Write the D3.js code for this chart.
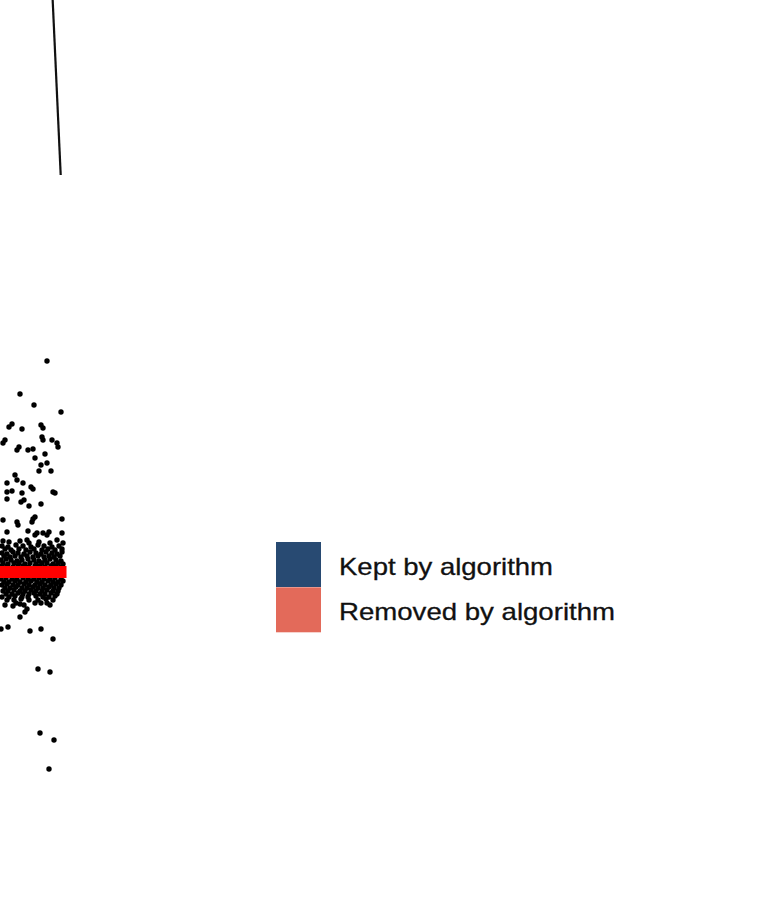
<!DOCTYPE html>
<html>
<head>
<meta charset="utf-8">
<script src="https://cdn.jsdelivr.net/npm/d3@7"></script>
<style>
  html, body { margin: 0; padding: 0; background: #ffffff; }
  svg { display: block; }
</style>
</head>
<body>
<svg id="chart" width="770" height="923"></svg>
<script>
// ---- data (jitter, value) ----
const sparsePoints = [
  [1.4,21.1],[-1.3,17.8],[0.1,16.7],[2.8,16.0],[-2.1,14.8],[-2.4,14.5],[-1.1,14.3],[0.8,14.7],[1.0,14.4],
  [0.9,13.5],[1.0,13.2],[-2.8,13.2],[-3.0,12.9],[1.9,13.2],[2.4,12.9],[2.5,12.5],[-1.4,12.5],[-1.6,12.2],
  [-0.5,12.2],[0.0,12.3],[0.2,11.4],[1.2,11.8],[0.8,10.7],[1.4,10.9],[0.6,10.1],[1.8,10.1],[-1.8,9.7],
  [-2.6,8.9],[-1.6,9.2],[-1.0,8.9],[-0.2,8.5],[0.0,8.3],[-2.6,8.0],[-2.1,8.1],[-1.1,7.9],[2.0,8.0],[2.2,7.9],
  [-2.6,7.3],[-1.2,7.0],[-0.9,7.2],[0.8,6.8],[-0.4,6.6],[-3.0,5.2],[-1.6,5.0],[-1.5,4.7],[0.2,5.5],[0.0,5.3],
  [-0.1,5.0],[2.9,5.3],[-2.6,4.0],[-0.5,4.1],[0.2,3.7],[0.4,3.9],[1.0,3.9],[1.4,3.7],[1.6,4.0],[2.9,3.9],
  [-3.0,3.1],[-2.4,3.0],[-1.3,3.1],[-0.6,3.2],[-0.4,2.9],[0.6,3.0],[1.7,2.9],[2.4,3.2],[3.0,2.9],
  [-2.8,-3.3],[-2.0,-3.4],[-1.7,-3.1],[-1.3,-3.2],[-0.9,-3.3],[-0.6,-3.7],[-0.8,-4.0],[0.2,-3.1],[0.8,-3.1],
  [1.4,-3.1],[1.7,-3.3],[-1.3,-4.5],[-2.5,-5.5],[-3.2,-5.7],[-0.3,-5.9],[0.8,-5.7],[2.0,-6.7],
  [0.5,-9.7],[1.7,-10.0],[0.7,-16.1],[2.1,-16.8],[1.6,-19.7]
];
const densePoints = [
  [-3.1,2.6],[-2.5,2.5],[-1.7,2.7],[-1.0,2.6],[-0.2,2.5],[0.5,2.7],[1.1,2.6],[1.9,2.5],[2.6,2.6],
  [-2.8,2.3],[-2.2,2.2],[-1.4,2.3],[-0.7,2.2],[0.1,2.3],[0.9,2.2],[1.5,2.3],[2.2,2.2],[2.9,2.3],
  [-3.1,1.9],[-2.6,1.8],[-2.0,2.0],[-1.5,1.9],[-0.9,1.8],[-0.3,2.0],[0.3,1.9],[0.8,1.8],[1.3,2.0],[1.9,1.9],[2.4,1.8],[2.9,2.0],
  [-2.9,1.6],[-2.3,1.5],[-1.8,1.6],[-1.2,1.5],[-0.6,1.6],[0.0,1.5],[0.5,1.6],[1.1,1.5],[1.6,1.6],[2.1,1.5],[2.7,1.6],
  [-3.2,1.2],[-2.7,1.3],[-2.2,1.2],[-1.6,1.1],[-1.1,1.2],[-0.5,1.3],[0.1,1.2],[0.6,1.1],[1.2,1.2],[1.7,1.3],[2.3,1.2],[2.8,1.1],
  [-3.0,0.9],[-2.5,0.8],[-1.9,0.9],[-1.4,0.9],[-0.8,0.8],[-0.3,0.9],[0.3,0.8],[0.9,0.9],[1.4,0.9],[2.0,0.8],[2.5,0.9],[3.0,0.8],
  [-3.1,0.6],[-2.6,0.6],[-2.0,0.5],[-1.5,0.6],[-1.0,0.6],[-0.4,0.5],[0.2,0.6],[0.7,0.6],[1.2,0.5],[1.8,0.6],[2.3,0.6],[2.8,0.5],
  [-3.2,-0.7],[-2.7,-0.6],[-2.1,-0.7],[-1.6,-0.7],[-1.0,-0.6],[-0.5,-0.7],[0.1,-0.7],[0.6,-0.6],[1.1,-0.7],[1.7,-0.7],[2.2,-0.6],[2.8,-0.7],
  [-2.9,-1.0],[-2.4,-1.0],[-1.8,-0.9],[-1.3,-1.0],[-0.7,-1.0],[-0.2,-0.9],[0.4,-1.0],[0.9,-1.0],[1.5,-0.9],[2.0,-1.0],[2.5,-1.0],[3.0,-0.9],
  [-3.1,-1.3],[-2.6,-1.2],[-2.0,-1.3],[-1.5,-1.3],[-0.9,-1.2],[-0.4,-1.3],[0.2,-1.3],[0.7,-1.2],[1.2,-1.3],[1.8,-1.3],[2.3,-1.2],[2.8,-1.3],
  [-2.8,-1.6],[-2.3,-1.6],[-1.7,-1.5],[-1.1,-1.6],[-0.6,-1.6],[0.0,-1.5],[0.5,-1.6],[1.0,-1.6],[1.6,-1.5],[2.1,-1.6],[2.6,-1.6],
  [-3.0,-1.9],[-2.5,-1.9],[-1.9,-1.8],[-1.3,-1.9],[-0.8,-1.9],[-0.2,-1.8],[0.3,-1.9],[0.9,-1.9],[1.4,-1.8],[2.0,-1.9],[2.5,-1.9],
  [-2.7,-2.2],[-2.1,-2.2],[-1.5,-2.1],[-1.0,-2.2],[-0.4,-2.2],[0.1,-2.1],[0.7,-2.2],[1.2,-2.2],[1.8,-2.1],[2.4,-2.2],
  [-3.1,-2.5],[-2.4,-2.5],[-1.8,-2.4],[-1.1,-2.5],[-0.5,-2.5],[0.3,-2.4],[1.0,-2.5],[1.6,-2.5],[2.2,-2.4],
  [-2.6,-2.8],[-1.9,-2.8],[-1.2,-2.7],[-0.4,-2.8],[0.5,-2.8],[1.3,-2.7],[2.0,-2.8]
];
const medianValue = 0;
const medianSpan = [-3.3, 3.35];
const topSegment = [[1.93, 58.0], [2.77, 39.7]];
const legendLabels = ["Kept by algorithm", "Removed by algorithm"];
const legendColors = ["#284a72", "#e36a5a"];

// ---- drawing ----
const svg = d3.select("#chart");
svg.append("rect").attr("width", 770).attr("height", 923).attr("fill", "#ffffff");

const x = d3.scaleLinear().domain([-3.3, 3.3]).range([0, 66]);
const y = d3.scaleLinear().domain([57.2, -35.1]).range([0, 923]);

// top segment
svg.append("path")
  .datum(topSegment)
  .attr("d", d3.line().x(d => x(d[0])).y(d => y(d[1])))
  .attr("stroke", "#111")
  .attr("stroke-width", 2.2)
  .attr("fill", "none");

// points
svg.append("g").selectAll("circle")
  .data(sparsePoints.concat(densePoints))
  .join("circle")
  .attr("cx", d => x(d[0]))
  .attr("cy", d => y(d[1]))
  .attr("r", 2.7)
  .attr("fill", "#000");

// median line
svg.append("line")
  .attr("x1", x(medianSpan[0])).attr("x2", x(medianSpan[1]))
  .attr("y1", y(medianValue)).attr("y2", y(medianValue))
  .attr("stroke", "#ff0000")
  .attr("stroke-width", 12);

// legend
const legend = svg.append("g").attr("transform", "translate(276,542)");
const item = legend.selectAll("g").data(legendLabels).join("g")
  .attr("transform", (d, i) => `translate(0,${i * 45.3})`);
item.append("rect")
  .attr("width", 45).attr("height", 45)
  .attr("fill", (d, i) => legendColors[i]);
item.append("text")
  .attr("x", 63).attr("y", 33)
  .attr("font-family", "'Liberation Sans', Arial, sans-serif")
  .attr("font-size", 24)
  .attr("fill", "#111")
  .attr("stroke", "#111")
  .attr("stroke-width", 0.3)
  .attr("textLength", (d, i) => i === 0 ? 214 : 276)
  .attr("lengthAdjust", "spacingAndGlyphs")
  .text(d => d);
</script>
</body>
</html>
